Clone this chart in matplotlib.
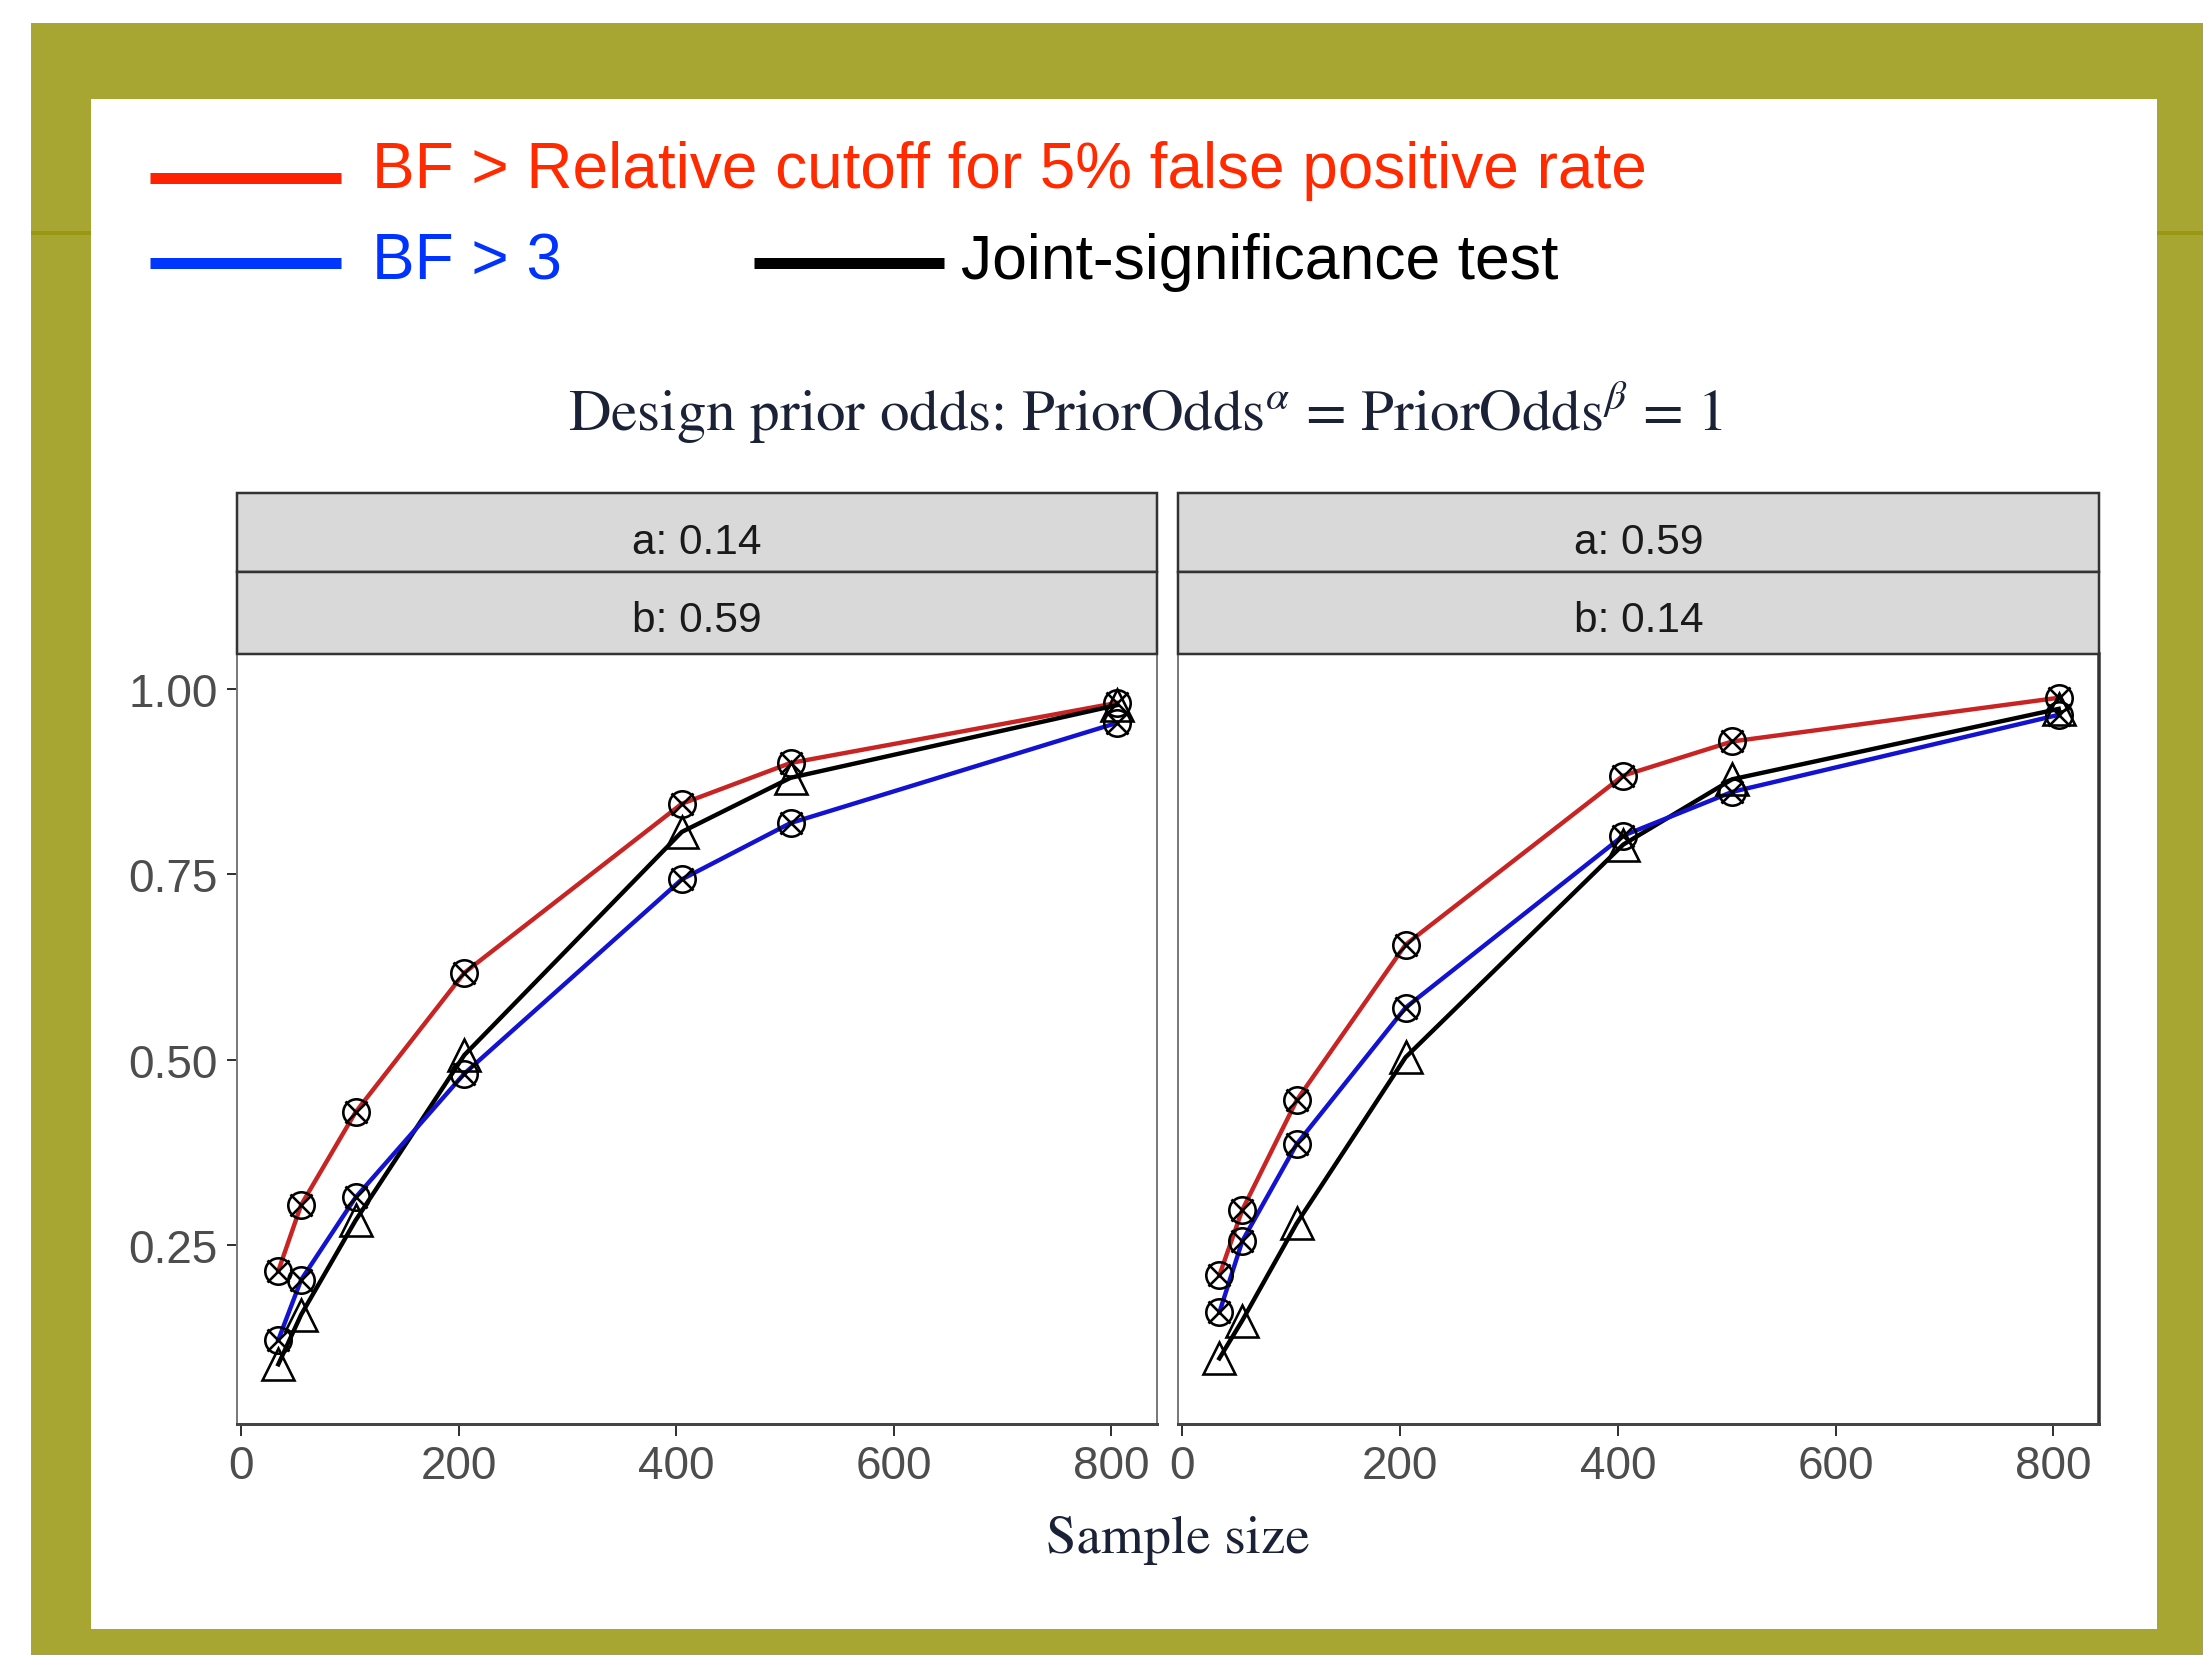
import matplotlib
matplotlib.use("Agg")
import matplotlib.pyplot as plt
from matplotlib.patches import Rectangle
from matplotlib.lines import Line2D

plt.rcParams['mathtext.fontset'] = 'stix'

# ---------------- data ----------------
sample_size = [34, 55, 105, 205, 405, 505, 805]

panel_a = ["a: 0.14", "a: 0.59"]
panel_b = ["b: 0.59", "b: 0.14"]

red_left = [0.215, 0.304, 0.429, 0.617, 0.845, 0.900, 0.981]
blue_left = [0.122, 0.203, 0.314, 0.481, 0.743, 0.819, 0.954]
black_left = [0.089, 0.156, 0.283, 0.506, 0.807, 0.880, 0.978]

red_right = [0.209, 0.297, 0.445, 0.655, 0.883, 0.929, 0.988]
blue_right = [0.159, 0.255, 0.386, 0.570, 0.802, 0.861, 0.965]
black_right = [0.097, 0.148, 0.279, 0.503, 0.790, 0.878, 0.973]

x_ticks = [0, 200, 400, 600, 800]
y_ticks = [0.25, 0.50, 0.75, 1.00]
y_tick_labels = ["0.25", "0.50", "0.75", "1.00"]

legend_red = "BF > Relative cutoff for 5% false positive rate"
legend_blue = "BF > 3"
legend_black = "Joint-significance test"
title = r"Design prior odds: PriorOdds$^{\alpha}$ = PriorOdds$^{\beta}$ = 1"
xlabel = "Sample size"

TICK_FONT, TICK_FS = "Liberation Sans", 33

# ---------------- layout ----------------
W, H = 2203, 1656
DPI = 100
fig = plt.figure(figsize=(W / DPI, H / DPI), dpi=DPI)
fig.patch.set_facecolor("white")
PT = 72 / DPI  # points per pixel


def rect(x0, y0, x1, y1, **kw):
    r = Rectangle((x0 / W, 1 - y1 / H), (x1 - x0) / W, (y1 - y0) / H,
                  transform=fig.transFigure, **kw)
    fig.add_artist(r)
    return r


def fx(x):
    return x / W


def fy(y):
    return 1 - y / H


OLIVE = "#A8A633"
DARK_OLIVE = "#9A9712"
NAVY = "#1B2238"

rect(31, 24, W, H, facecolor=OLIVE, edgecolor="none", zorder=0)
rect(31, 232, 91, 236, facecolor=DARK_OLIVE, edgecolor="none", zorder=0.5)
rect(2157, 232, W, 236, facecolor=DARK_OLIVE, edgecolor="none", zorder=0.5)
rect(91, 100, 2157, 1630, facecolor="white", edgecolor="none", zorder=1)

# legend
LEG_LW = 11 * PT
fig.add_artist(Line2D([fx(150), fx(341)], [fy(178.5), fy(178.5)], color="#FF2200",
                      lw=LEG_LW, solid_capstyle="butt", transform=fig.transFigure, zorder=2))
fig.add_artist(Line2D([fx(150), fx(341)], [fy(264), fy(264)], color="#0037FF",
                      lw=LEG_LW, solid_capstyle="butt", transform=fig.transFigure, zorder=2))
fig.add_artist(Line2D([fx(754), fx(944)], [fy(264), fy(264)], color="black",
                      lw=LEG_LW, solid_capstyle="butt", transform=fig.transFigure, zorder=2))
LEG_FS = 46
fig.text(fx(372), fy(188), legend_red, color="#FF2A00", fontsize=LEG_FS,
         family="Liberation Sans", va="baseline", ha="left", zorder=3)
fig.text(fx(372), fy(279), legend_blue, color="#0033FF", fontsize=LEG_FS,
         family="Liberation Sans", va="baseline", ha="left", zorder=3)
fig.text(fx(961), fy(279), legend_black, color="black", fontsize=45,
         family="Liberation Sans", va="baseline", ha="left", zorder=3)

# title
fig.text(fx(1145), fy(431), title, color=NAVY, fontsize=42.5, family="STIXGeneral",
         ha="center", va="baseline", zorder=3)

# panels
PLOT_TOP, PLOT_BOT = 655, 1425
STRIP_TOP, STRIP_MID = 494, 573
panels = [
    (237, 1157, red_left, blue_left, black_left, panel_a[0], panel_b[0]),
    (1178, 2099, red_right, blue_right, black_right, panel_a[1], panel_b[1]),
]

RED = "#C82423"
BLUE = "#1212D0"
LINE_W = 4.4 * PT
MEW = 2.6 * PT

for i, (x0, x1, red, blue, black, la, lb) in enumerate(panels):
    ax = fig.add_axes([fx(x0), fy(PLOT_BOT), (x1 - x0) / W, (PLOT_BOT - PLOT_TOP) / H])
    ax.set_zorder(3)
    ax.set_facecolor("white")
    ax.plot(sample_size, red, color=RED, lw=LINE_W, zorder=2)
    ax.plot(sample_size, black, color="black", lw=LINE_W, zorder=2)
    ax.plot(sample_size, blue, color=BLUE, lw=LINE_W, zorder=2)
    for ys in (red, blue):
        ax.plot(sample_size, ys, ls="none", marker="o", ms=19, mfc="none",
                mec="black", mew=MEW, zorder=3)
        ax.plot(sample_size, ys, ls="none", marker="x", ms=16.5, mec="black",
                mew=MEW, zorder=3)
    ax.plot(sample_size, black, ls="none", marker="^", ms=23, mfc="none",
            mec="black", mew=MEW, zorder=3)

    ax.set_xlim(-4, 842)
    ax.set_ylim(0.0085, 1.047)
    ax.set_xticks(x_ticks)
    ax.set_xticklabels([str(t) for t in x_ticks])
    ax.tick_params(axis="x", length=12 * PT, width=2 * PT, color="#333333",
                   labelsize=TICK_FS, labelcolor="#4D4D4D", pad=8 * PT)
    for lab in ax.get_xticklabels():
        lab.set_family(TICK_FONT)
    if i == 0:
        ax.set_yticks(y_ticks)
        ax.set_yticklabels(y_tick_labels)
        ax.tick_params(axis="y", length=10 * PT, width=2 * PT, color="#333333",
                       labelsize=TICK_FS, labelcolor="#4D4D4D", pad=9 * PT)
        for lab in ax.get_yticklabels():
            lab.set_family(TICK_FONT)
    else:
        ax.set_yticks([])
    for s in ("left", "right"):
        ax.spines[s].set_color("#7A7A7A")
        ax.spines[s].set_linewidth(2 * PT)
    if i == 1:
        ax.spines["right"].set_color("#333333")
        ax.spines["right"].set_linewidth(3.5 * PT)
    ax.spines["top"].set_visible(False)
    ax.spines["bottom"].set_color("#444444")
    ax.spines["bottom"].set_linewidth(3 * PT)

    # strips
    rect(x0, STRIP_TOP, x1, STRIP_MID, facecolor="#D9D9D9", edgecolor="#333333",
         lw=2.5 * PT, zorder=4)
    rect(x0, STRIP_MID, x1, PLOT_TOP, facecolor="#D9D9D9", edgecolor="#333333",
         lw=2.5 * PT, zorder=4)
    cx = (x0 + x1) / 2
    fig.text(fx(cx), fy(554), la, color="#1A1A1A", fontsize=30.5,
             family="Liberation Sans", ha="center", va="baseline", zorder=5)
    fig.text(fx(cx), fy(632), lb, color="#1A1A1A", fontsize=30.5,
             family="Liberation Sans", ha="center", va="baseline", zorder=5)

fig.text(fx(1178), fy(1553), xlabel, color=NAVY, fontsize=39.5, family="STIXGeneral",
         ha="center", va="baseline", zorder=3)

fig.savefig("out.png", dpi=DPI)
